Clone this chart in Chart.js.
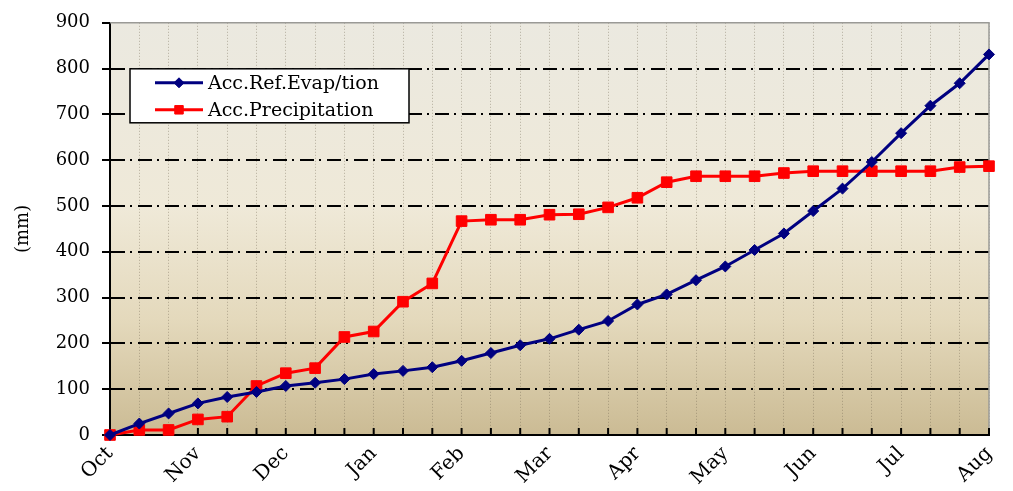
<!DOCTYPE html>
<html>
<head>
<meta charset="utf-8">
<script src="https://cdn.jsdelivr.net/npm/chart.js@4/dist/chart.umd.min.js"></script>
<style>
    body { margin: 0; background: #fff; }
    #chart-wrap { width: 1013px; height: 491px; }
</style>
</head>
<body>
<div id="chart-wrap"><canvas id="acc-chart" width="1013" height="491"></canvas></div>
<script>
const months = ['Oct', 'Nov', 'Dec', 'Jan', 'Feb', 'Mar', 'Apr', 'May', 'Jun', 'Jul', 'Aug'];
const pointsPerMonth = 3;
const evapValues = [
    0, 25, 47, 69, 83, 94, 107, 114, 122, 133, 140, 148, 162, 179, 196, 210,
    230, 249, 285, 307, 338, 368, 404, 440, 489, 538, 596, 659, 719, 768, 831,
];
const precipValues = [
    0, 11, 11, 34, 40, 107, 135, 146, 214, 226, 291, 331, 467, 470, 470, 481,
    482, 497, 518, 552, 565, 565, 565, 572, 576, 576, 576, 576, 576, 585, 587,
];
const seriesNames = ['Acc.Ref.Evap/tion', 'Acc.Precipitation'];
const yMin = 0;
const yMax = 900;
const yStep = 100;

const serifFont = '"DejaVu Serif", "Liberation Serif", serif';

const pointLabels = evapValues.map((value, i) =>
    i % pointsPerMonth === 0 ? months[i / pointsPerMonth] : ''
);

// gradient fill behind the plot
const plotBackground = {
    id: 'plotBackground',
    beforeDraw(chart) {
        const { ctx, chartArea } = chart;
        const { left, top, right, bottom } = chartArea;
        const gradient = ctx.createLinearGradient(0, top, 0, bottom);
        gradient.addColorStop(0, '#EBE9E0');
        gradient.addColorStop(0.45, '#EFE9D8');
        gradient.addColorStop(0.72, '#E4D9BC');
        gradient.addColorStop(1, '#CBBB94');
        ctx.save();
        ctx.fillStyle = gradient;
        ctx.fillRect(left, top, right - left, bottom - top);
        ctx.restore();
    },
    beforeDatasetsDraw(chart) {
        const { ctx, chartArea, scales } = chart;
        const { left, top, right, bottom } = chartArea;
        ctx.save();
        // grey frame on top and right
        ctx.strokeStyle = '#9a9a96';
        ctx.lineWidth = 1.5;
        ctx.beginPath();
        ctx.moveTo(left, top);
        ctx.lineTo(right, top);
        ctx.lineTo(right, bottom);
        ctx.stroke();
        // x tick marks point inward
        ctx.strokeStyle = '#000';
        ctx.lineWidth = 2;
        ctx.beginPath();
        scales.x.ticks.forEach((tick, i) => {
            const x = scales.x.getPixelForTick(i);
            ctx.moveTo(x, bottom);
            ctx.lineTo(x, bottom - 7);
        });
        ctx.stroke();
        ctx.restore();
    },
};

// boxed legend inside the plot
const boxedLegend = {
    id: 'boxedLegend',
    afterDraw(chart) {
        const { ctx, chartArea } = chart;
        const boxX = chartArea.left + 20;
        const boxY = chartArea.top + 46;
        const boxW = 279;
        const boxH = 54;
        ctx.save();
        ctx.fillStyle = '#fff';
        ctx.fillRect(boxX, boxY, boxW, boxH);
        ctx.strokeStyle = '#000';
        ctx.lineWidth = 1.5;
        ctx.strokeRect(boxX, boxY, boxW, boxH);

        chart.data.datasets.forEach((dataset, i) => {
            const y = boxY + 14 + i * 27;
            ctx.strokeStyle = dataset.borderColor;
            ctx.fillStyle = dataset.backgroundColor;
            ctx.lineWidth = 3;
            ctx.beginPath();
            ctx.moveTo(boxX + 25, y);
            ctx.lineTo(boxX + 73, y);
            ctx.stroke();
            ctx.lineWidth = 1;
            Chart.helpers.drawPoint(
                ctx,
                {
                    pointStyle: dataset.pointStyle,
                    radius: dataset.pointStyle === 'rect' ? 6 : 5,
                    rotation: 0,
                    borderWidth: 1,
                },
                boxX + 49,
                y
            );
            ctx.fillStyle = '#000';
            ctx.font = '19px ' + serifFont;
            ctx.textBaseline = 'middle';
            ctx.textAlign = 'left';
            ctx.fillText(dataset.label, boxX + 78, y + 1);
        });
        ctx.restore();
    },
};

const chartCanvas = document.getElementById('acc-chart');

new Chart(chartCanvas, {
    type: 'line',
    data: {
        labels: pointLabels,
        datasets: [
            {
                label: seriesNames[0],
                data: evapValues,
                borderColor: '#000080',
                backgroundColor: '#000080',
                borderWidth: 3,
                pointStyle: 'rectRot',
                pointRadius: 5.5,
                pointBorderWidth: 1,
                tension: 0,
                clip: false,
            },
            {
                label: seriesNames[1],
                data: precipValues,
                borderColor: '#FF0000',
                backgroundColor: '#FF0000',
                borderWidth: 3,
                pointStyle: 'rect',
                pointRadius: 7.5,
                pointBorderWidth: 1,
                tension: 0,
                clip: false,
            },
        ],
    },
    options: {
        responsive: false,
        animation: false,
        layout: { padding: { top: 20, right: 24, left: 9, bottom: 0 } },
        plugins: {
            legend: { display: false },
            tooltip: { enabled: false },
        },
        scales: {
            x: {
                grid: {
                    color: 'rgba(110, 100, 80, 0.45)',
                    lineWidth: 1,
                    drawTicks: false,
                },
                border: { color: '#000', width: 2, dash: [1, 2] },
                ticks: {
                    autoSkip: false,
                    minRotation: 45,
                    maxRotation: 45,
                    padding: 7,
                    color: '#000',
                    font: { family: serifFont, size: 20 },
                },
                afterFit(scale) {
                    scale.height = 56;
                },
            },
            y: {
                min: yMin,
                max: yMax,
                grid: {
                    color: (ctx) =>
                        ctx.tick && (ctx.tick.value === yMin || ctx.tick.value === yMax)
                            ? 'rgba(0,0,0,0)'
                            : '#000',
                    lineWidth: 2,
                    tickColor: '#000',
                    tickWidth: 2,
                    tickLength: 8,
                },
                border: { color: '#000', width: 2, dash: [14, 5, 2, 6] },
                ticks: {
                    stepSize: yStep,
                    padding: 12,
                    color: '#000',
                    font: { family: serifFont, size: 18 },
                },
                title: {
                    display: true,
                    text: '(mm)',
                    color: '#000',
                    font: { family: serifFont, size: 18 },
                    padding: { top: 4, bottom: 4 },
                },
                afterFit(scale) {
                    scale.width = 101;
                },
            },
        },
    },
    plugins: [plotBackground, boxedLegend],
});
</script>
</body>
</html>
